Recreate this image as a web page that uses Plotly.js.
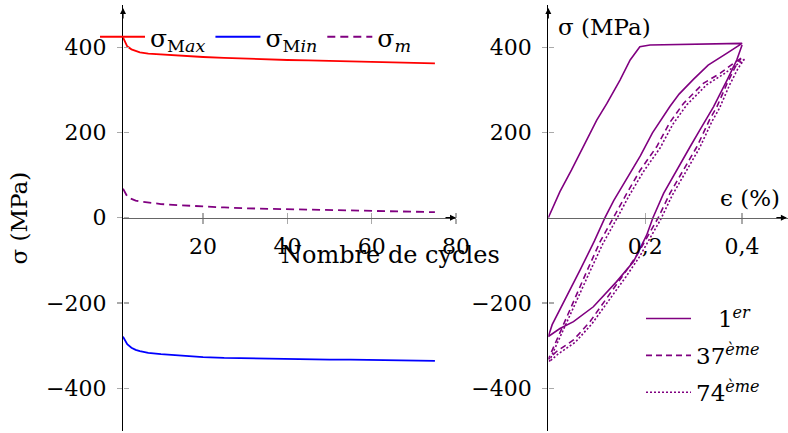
<!DOCTYPE html>
<html><head><meta charset="utf-8">
<script src="https://cdn.plot.ly/plotly-3.0.1.min.js"></script>
<style>html,body{margin:0;padding:0;background:#fff}</style>
</head><body><div id="chart" style="width:788px;height:433px"></div>
<script>
// ---- left panel: stress vs number of cycles ----
const cycles    = [1, 2, 3, 4, 5, 7, 10, 15, 20, 25, 30, 35, 40, 45, 50, 55, 60, 65, 70, 75];
const sigmaMax  = [423, 402, 395, 391, 388, 385, 383, 380, 377, 375, 373, 371, 370, 369, 368, 367, 366, 365, 364, 362];
const sigmaMin  = [-279, -297, -305, -310, -313, -317, -320, -324, -327, -329, -330, -331, -332, -332, -333, -333, -334, -334, -335, -336];
const sigmaMean = [68, 50, 44, 40, 38, 35, 32, 29, 26, 24, 22, 21, 20, 18, 17, 16, 15, 14, 14, 13];

// ---- right panel: hysteresis loops ----
const eps1 = [0, 0.024, 0.048, 0.072, 0.1, 0.121, 0.148, 0.169, 0.189, 0.21, 0.3, 0.4,
  0.369, 0.33, 0.3, 0.27, 0.251, 0.215, 0.19, 0.16, 0.135, 0.117, 0.095, 0.066, 0.045, 0.024, 0.008, 0,
  0.024, 0.052, 0.093, 0.141, 0.176, 0.203, 0.216, 0.238, 0.265, 0.293, 0.313, 0.341, 0.369, 0.389, 0.4];
const sig1 = [0, 61, 112, 167, 229, 268, 323, 370, 401, 405, 407, 409,
  386, 358, 325, 290, 261, 199, 145, 89, 40, 0, -55, -122, -169, -213, -251, -279,
  -260, -244, -209, -150, -103, -41, 0, 57, 112, 167, 206, 260, 323, 370, 405];

const eps37 = [0.398, 0.382, 0.355, 0.32, 0.279, 0.25, 0.224, 0.19, 0.162, 0.135, 0.107, 0.079, 0.052, 0.024, 0.007, 0,
  0.017, 0.052, 0.086, 0.121, 0.155, 0.183, 0.21, 0.227, 0.251, 0.279, 0.307, 0.333, 0.348, 0.369, 0.386, 0.398];
const sig37 = [374, 362, 339, 315, 268, 222, 167, 112, 57, 0, -56, -127, -197, -267, -314, -332,
  -314, -287, -244, -189, -134, -88, -33, 0, 57, 112, 167, 230, 260, 315, 354, 374];

const eps74 = [0.405, 0.39, 0.362, 0.327, 0.286, 0.257, 0.231, 0.197, 0.168, 0.141, 0.113, 0.084, 0.056, 0.027, 0.009, 0.002,
  0.02, 0.056, 0.09, 0.125, 0.16, 0.188, 0.215, 0.232, 0.256, 0.284, 0.312, 0.338, 0.353, 0.374, 0.392, 0.405];
const sig74 = [372, 360, 337, 312, 265, 219, 164, 109, 54, -3, -60, -131, -201, -271, -318, -338,
  -320, -292, -249, -194, -139, -92, -37, -4, 53, 108, 163, 226, 256, 311, 351, 372];

// ---- ticks and labels ----
const yTicksLeft  = [-400, -200, 0, 200, 400];
const yTicksRight = [-400, -200, 200, 400];
const xTicksLeft  = [20, 40, 60, 80];
const xTicksRight = [0.2, 0.4];
const xTickTextRight = ['0,2', '0,4'];
const namesLeft  = ['σ<sub>M<i>ax</i></sub>', 'σ<sub>M<i>in</i></sub>', 'σ<sub><i>m</i></sub>'];
const namesRight = ['\u00a0\u00a0\u00a01<sup><i>er</i></sup>', '37<sup><i>ème</i></sup>', '74<sup><i>ème</i></sup>'];

const FONT = 'DejaVu Serif, serif';
const FS = 22;
const W = 788, H = 433;
const px = v => v / W;
const py = v => (H - v) / H;
const yDom = [py(430.8), py(4.575)];
const zeroPos = py(217.7);
const xDomL = [px(123), px(456)];
const xDomR = [px(548.3), 1];

const purple = '#800080';
const traces = [
  {x: cycles, y: sigmaMax, name: namesLeft[0], mode: 'lines', line: {color: '#ff0000', width: 1.8}, xaxis: 'x', yaxis: 'y', legend: 'legend'},
  {x: cycles, y: sigmaMin, name: namesLeft[1], mode: 'lines', line: {color: '#0000ff', width: 1.8}, xaxis: 'x', yaxis: 'y', legend: 'legend'},
  {x: cycles, y: sigmaMean, name: namesLeft[2], mode: 'lines', line: {color: purple, width: 1.8, dash: '8px,5px'}, xaxis: 'x', yaxis: 'y', legend: 'legend'},
  {x: eps1, y: sig1, name: namesRight[0], mode: 'lines', line: {color: purple, width: 1.6}, xaxis: 'x2', yaxis: 'y2', legend: 'legend2', legendgroup: 'a'},
  {x: eps37, y: sig37, name: namesRight[1], mode: 'lines', line: {color: purple, width: 1.6, dash: '6px,4px'}, xaxis: 'x2', yaxis: 'y2', legend: 'legend2', legendgroup: 'b'},
  {x: eps74, y: sig74, name: namesRight[2], mode: 'lines', line: {color: purple, width: 1.6, dash: '2px,2px'}, xaxis: 'x2', yaxis: 'y2', legend: 'legend2', legendgroup: 'c'},
  // empty carriers for the upper/right halves of the crossing tick marks
  {x: [null], y: [null], xaxis: 'x3', yaxis: 'y3', showlegend: false, hoverinfo: 'skip'},
  {x: [null], y: [null], xaxis: 'x4', yaxis: 'y4', showlegend: false, hoverinfo: 'skip'}
];

const tickFont = {family: FONT, size: FS, color: '#000'};
const baseAx = {showgrid: false, zeroline: false, fixedrange: true};
const tk = {tickmode: 'array', ticks: 'outside', ticklen: 5, tickcolor: '#aaa', tickwidth: 1.2};

const layout = {
  width: W, height: H,
  margin: {l: 0, r: 0, t: 0, b: 0},
  paper_bgcolor: '#fff', plot_bgcolor: 'rgba(0,0,0,0)',
  font: {family: FONT, size: FS, color: '#000'},
  showlegend: true,
  xaxis: Object.assign({}, baseAx, tk, {domain: xDomL, range: [1, 80], anchor: 'free', position: zeroPos,
    tickvals: xTicksLeft, showline: true, linecolor: '#666', linewidth: 1.2, tickfont: tickFont, ticklabelstandoff: 4}),
  yaxis: Object.assign({}, baseAx, tk, {domain: yDom, range: [-500, 500], anchor: 'x',
    tickvals: yTicksLeft, showline: true, linecolor: '#000', linewidth: 1.2, tickfont: tickFont, ticklabelstandoff: 6}),
  xaxis2: Object.assign({}, baseAx, tk, {domain: xDomR, range: [0, 0.4948], anchor: 'free', position: zeroPos,
    tickvals: xTicksRight, ticktext: xTickTextRight, showline: true, linecolor: '#666', linewidth: 1.2, tickfont: tickFont, ticklabelstandoff: 4}),
  yaxis2: Object.assign({}, baseAx, tk, {domain: yDom, range: [-500, 500], anchor: 'x2',
    tickvals: yTicksRight, showline: true, linecolor: '#000', linewidth: 1.2, tickfont: tickFont, ticklabelstandoff: 6}),
  // tick halves on the other side of each axis line
  xaxis3: Object.assign({}, baseAx, tk, {overlaying: 'x', anchor: 'free', position: zeroPos, side: 'top', range: [1, 80],
    tickvals: xTicksLeft, showticklabels: false, showline: false}),
  yaxis3: Object.assign({}, baseAx, tk, {overlaying: 'y', anchor: 'free', position: px(123), side: 'right', range: [-500, 500],
    tickvals: yTicksLeft, showticklabels: false, showline: false}),
  xaxis4: Object.assign({}, baseAx, tk, {overlaying: 'x2', anchor: 'free', position: zeroPos, side: 'top', range: [0, 0.4948],
    tickvals: xTicksRight, showticklabels: false, showline: false}),
  yaxis4: Object.assign({}, baseAx, tk, {overlaying: 'y2', anchor: 'free', position: px(548.3), side: 'right', range: [-500, 500],
    tickvals: yTicksRight, showticklabels: false, showline: false}),
  legend: {orientation: 'h', x: px(95), xanchor: 'left', y: py(37), yanchor: 'middle',
    bgcolor: 'rgba(0,0,0,0)', borderwidth: 0, itemwidth: 45, font: {family: FONT, size: 25}, traceorder: 'normal'},
  legend2: {orientation: 'v', x: px(641), xanchor: 'left', y: py(297), yanchor: 'top', tracegroupgap: 4,
    bgcolor: 'rgba(0,0,0,0)', borderwidth: 0, itemwidth: 45, font: {family: FONT, size: 23}, traceorder: 'grouped'},
  annotations: [
    {text: 'σ (MPa)', xref: 'paper', yref: 'paper', x: px(19), y: py(218.5), textangle: -90, showarrow: false, xanchor: 'center', yanchor: 'middle', font: {family: FONT, size: 23}},
    {text: 'Nombre de cycles', xref: 'paper', yref: 'paper', x: px(390), y: py(255), showarrow: false, xanchor: 'center', yanchor: 'middle', font: {family: FONT, size: 24}},
    {text: 'σ (MPa)', xref: 'paper', yref: 'paper', x: px(604), y: py(27), showarrow: false, xanchor: 'center', yanchor: 'middle', font: {family: FONT, size: 23}},
    {text: 'ϵ (%)', xref: 'paper', yref: 'paper', x: px(750), y: py(198), showarrow: false, xanchor: 'center', yanchor: 'middle', font: {family: FONT, size: 23}},
    // axis arrows
    {text: '', xref: 'x', yref: 'y', x: 1, y: 492, ax: 0, ay: 12, showarrow: true, arrowhead: 2, arrowsize: 1, arrowwidth: 1.2, arrowcolor: '#000'},
    {text: '', xref: 'x', yref: 'y', x: 80, y: 0, ax: -12, ay: 0, showarrow: true, arrowhead: 2, arrowsize: 1, arrowwidth: 1.2, arrowcolor: '#000'},
    {text: '', xref: 'x2', yref: 'y2', x: 0, y: 492, ax: 0, ay: 12, showarrow: true, arrowhead: 2, arrowsize: 1, arrowwidth: 1.2, arrowcolor: '#000'},
    {text: '', xref: 'x2', yref: 'y2', x: 0.4925, y: 0, ax: -12, ay: 0, showarrow: true, arrowhead: 2, arrowsize: 1, arrowwidth: 1.2, arrowcolor: '#000'}
  ]
};

Plotly.newPlot('chart', traces, layout, {staticPlot: true, displayModeBar: false});
</script>
</body></html>
